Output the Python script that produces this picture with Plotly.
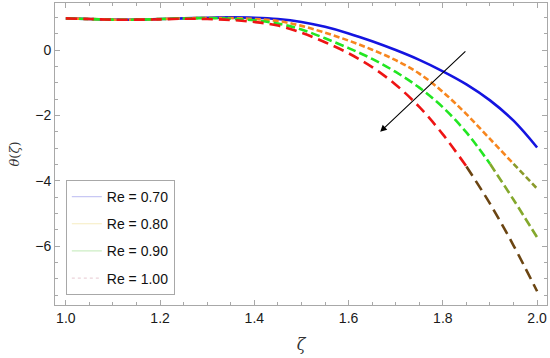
import plotly.graph_objects as go

zeta = [1.00, 1.05, 1.10, 1.15, 1.20, 1.25, 1.30, 1.35, 1.40, 1.45, 1.50,
        1.55, 1.60, 1.65, 1.70, 1.75, 1.80, 1.85, 1.90, 1.95, 2.00]

theta_re070 = [0.97, 0.95, 0.93, 0.93, 0.95, 0.97, 0.99, 1.00, 0.99, 0.95, 0.86,
               0.71, 0.51, 0.27, 0.00, -0.30, -0.65, -1.05, -1.54, -2.16, -2.98]
theta_re080 = [0.97, 0.95, 0.93, 0.93, 0.95, 0.97, 0.98, 0.98, 0.95, 0.89, 0.74,
               0.53, 0.29, 0.01, -0.31, -0.72, -1.28, -1.96, -2.72, -3.48, -4.24]
theta_re090 = [0.97, 0.95, 0.93, 0.93, 0.95, 0.97, 0.98, 0.96, 0.91, 0.81, 0.63,
               0.36, 0.06, -0.27, -0.67, -1.15, -1.75, -2.52, -3.48, -4.58, -5.73]
theta_re100 = [0.97, 0.95, 0.93, 0.93, 0.94, 0.96, 0.95, 0.92, 0.86, 0.75, 0.53,
               0.24, -0.10, -0.52, -1.06, -1.74, -2.58, -3.56, -4.70, -5.98, -7.38]

labels = ["Re = 0.70", "Re = 0.80", "Re = 0.90", "Re = 1.00"]
series = [theta_re070, theta_re080, theta_re090, theta_re100]
colors = ["#1414e0", "#f7861e", "#22e622", "#ee1414"]
low_colors = ["#1414e0", "#8a9a2a", "#84a82c", "#6b4512"]
dashes = ["solid", "6px,3px", "9px,4px", "11px,6px"]
legend_colors = ["#c8c8f4", "#f6ecc0", "#cdeec4", "#ecd4da"]
legend_dashes = ["solid", "solid", "solid", "dot"]

split = -4.0

fig = go.Figure()

for name, ys, c, lc, d in zip(labels, series, colors, low_colors, dashes):
    xs_u, ys_u, xs_l, ys_l = [], [], [], []
    for i, (x, y) in enumerate(zip(zeta, ys)):
        if y >= split:
            xs_u.append(x); ys_u.append(y)
        else:
            if not xs_l and i > 0:
                xs_l.append(zeta[i - 1]); ys_l.append(ys[i - 1])
            xs_l.append(x); ys_l.append(y)
    fig.add_trace(go.Scatter(x=xs_u, y=ys_u, mode="lines", showlegend=False,
                             line=dict(color=c, width=2.6, dash=d, shape="spline")))
    if xs_l:
        fig.add_trace(go.Scatter(x=xs_l, y=ys_l, mode="lines", showlegend=False,
                                 line=dict(color=lc, width=2.6, dash=d, shape="spline")))

for i, (name, c, d) in enumerate(zip(labels, legend_colors, legend_dashes)):
    fig.add_trace(go.Scatter(x=[None], y=[None], mode="lines", name=name,
                             legendgroup=f"g{i}",
                             line=dict(color=c, width=1.2, dash=d)))

# arrow indicating increasing Re
fig.add_annotation(x=1.667, y=-2.50, ax=1.851, ay=0.0,
                   xref="x", yref="y", axref="x", ayref="y",
                   showarrow=True, arrowhead=2, arrowsize=1.2, arrowwidth=1.1,
                   arrowcolor="black", text="")

axis_common = dict(showline=True, linecolor="#a8a8a8", linewidth=1, mirror="ticks",
                   ticks="inside", ticklen=5, tickcolor="#a8a8a8", showgrid=False,
                   zeroline=False, automargin=False,
                   tickfont=dict(size=14, color="#1a1a1a",
                                 family="Liberation Sans, Arial"))

fig.update_xaxes(range=[0.977, 2.021], tickvals=[1.0, 1.2, 1.4, 1.6, 1.8, 2.0],
                 ticktext=["1.0", "1.2", "1.4", "1.6", "1.8", "2.0"],
                 minor=dict(dtick=0.05, tick0=1.0, ticks="inside", ticklen=3,
                            tickcolor="#a8a8a8", showgrid=False),
                 title=dict(text="<i>ζ</i>", font=dict(size=16, color="#333",
                                                      family="DejaVu Serif"),
                            standoff=14),
                 **axis_common)
fig.update_yaxes(range=[-7.8, 1.44], tickvals=[0, -2, -4, -6],
                 ticktext=["0", "−2", "−4", "−6"],
                 minor=dict(dtick=0.5, tick0=0, ticks="inside", ticklen=3,
                            tickcolor="#a8a8a8", showgrid=False),
                 title=dict(text="<i>θ</i>(<i>ζ</i>)", font=dict(size=13, color="#333",
                                                              family="DejaVu Serif"),
                            standoff=12),
                 **axis_common)

fig.update_layout(
    width=550, height=358,
    margin=dict(l=55, r=3, t=3, b=53),
    plot_bgcolor="white", paper_bgcolor="white",
    font=dict(family="Liberation Sans, Arial", color="#1a1a1a"),
    legend=dict(x=0.022, y=0.414, xanchor="left", yanchor="top",
                bgcolor="white", bordercolor="#a8a8a8", borderwidth=1,
                font=dict(size=14, color="#111"), tracegroupgap=6,
                itemwidth=30),
)

fig.write_html("out.html", config={"displayModeBar": False},
               post_script="document.body.style.margin='0';document.body.style.overflow='hidden';")
